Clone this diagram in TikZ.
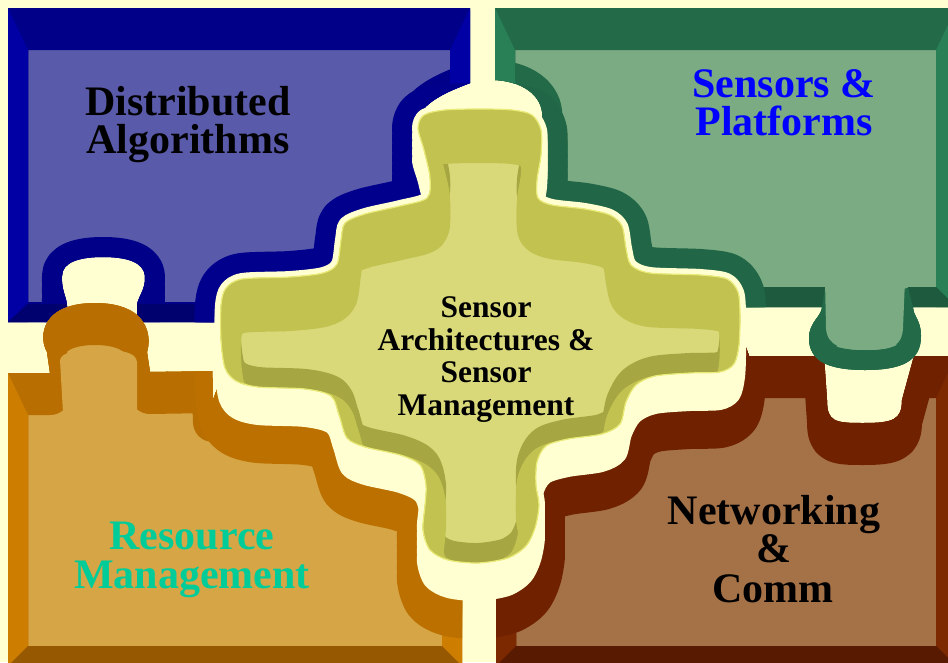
\documentclass[tikz,border=0pt]{standalone}
\usepackage{fontspec}
\setmainfont{Liberation Serif}
\definecolor{paper}{RGB}{255,255,210}
\definecolor{bluface}{RGB}{90,90,170}
\definecolor{blutop}{RGB}{0,0,136}
\definecolor{bluside}{RGB}{0,0,165}
\definecolor{blubot}{RGB}{0,0,110}
\definecolor{bluwave}{RGB}{0,0,140}
\definecolor{grnface}{RGB}{123,171,130}
\definecolor{grntop}{RGB}{34,106,72}
\definecolor{grnside}{RGB}{42,128,86}
\definecolor{grnbot}{RGB}{30,90,62}
\definecolor{grnwave}{RGB}{33,102,70}
\definecolor{orgface}{RGB}{214,165,70}
\definecolor{orgtop}{RGB}{184,110,0}
\definecolor{orgside}{RGB}{205,125,0}
\definecolor{orgbot}{RGB}{150,88,0}
\definecolor{orgwave}{RGB}{188,112,0}
\definecolor{brnface}{RGB}{165,114,72}
\definecolor{brntop}{RGB}{112,34,0}
\definecolor{brnside}{RGB}{124,40,0}
\definecolor{brnbot}{RGB}{88,26,0}
\definecolor{brnwave}{RGB}{112,34,0}
\definecolor{cenfloor}{RGB}{217,217,122}
\definecolor{cenlight}{RGB}{194,194,80}
\definecolor{cendark}{RGB}{166,166,66}
\definecolor{cenrim}{RGB}{234,234,120}
\definecolor{rmteal}{RGB}{0,204,153}
\definecolor{spblue}{RGB}{0,0,255}

% one corner tray: #1 outline, #2 colour prefix, #3-#6 outer frame, #7 extra floor and bottom wall
\newcommand\cornerpiece[7]{%
  \begin{scope}
    \clip #1;
    \fill[#2face] #1;
    \foreach \s in {0,11,22}{\draw[#2top,line width=40pt,shift={(0,\s)}] #1;}
    \fill[#2side] (#3,#4) -- (#3+20,#4+42) -- (#3+20,#6-20) -- (#3,#6) -- cycle;
    \fill[#2side] (#5,#4) -- (#5-20,#4+42) -- (#5-20,#6-20) -- (#5,#6) -- cycle;
    #7
    \foreach \s in {0,10,...,50}{\filldraw[#2wave,line width=52pt,shift={(0,\s)}] \centrepath;}
  \end{scope}}

\begin{document}
\begin{tikzpicture}[x=1pt,y=-1pt,line join=round,line cap=round,
  lab/.style={anchor=base,inner sep=0pt,font=\bfseries\fontsize{42}{42}\selectfont},
  ctr/.style={anchor=base,inner sep=0pt,font=\bfseries\fontsize{31.5}{32}\selectfont}]
\useasboundingbox (0,0) rectangle (948,662);
\fill[paper] (0,0) rectangle (948,662);

\def\centrepath{plot[smooth cycle,tension=0.5] coordinates {
 (418,128) (424,115) (445,110) (480,109) (512,110) (532,115) (541,130) (541,155)
 (537,180) (538,198) (552,205) (585,209) (610,215) (622,226) (626,248) (631,265)
 (650,273) (700,275) (727,279) (738,292) (740,315) (739,345) (734,364) (720,372)
 (690,373) (655,376) (636,385) (626,402) (620,424) (602,434) (568,439) (546,446)
 (537,462) (536,485) (539,505) (535,528) (526,546) (508,558) (478,563) (448,560)
 (430,550) (423,530) (425,505) (426,485) (420,465) (400,455) (365,447) (347,438)
 (339,415) (331,396) (305,389) (258,387) (236,381) (225,368) (221,340) (221,305)
 (226,288) (242,279) (290,277) (323,273) (337,264) (341,240) (345,223) (365,214)
 (400,206) (427,198) (430,178) (424,150)}}

\def\bluepath{(8,8) -- (470,8) -- (470,83) .. controls (452,90) and (425,100) .. (418,118)
 -- (445,150) -- (470,320) -- (235,320) -- (216,322) -- (137,322) -- (137,306)
 .. controls (137,298) and (146,290) .. (145,276) .. controls (144,262) and (126,257) .. (103,257)
 .. controls (80,257) and (62,262) .. (62,276) .. controls (61,290) and (67,298) .. (67,306)
 -- (67,322) -- (8,322) -- cycle}

\def\grnpath{(495,8) -- (956,8) -- (956,307) -- (913,307)
 .. controls (913,316) and (921,320) .. (921,336) .. controls (921,362) and (900,370) .. (865,370)
 .. controls (830,370) and (809,362) .. (809,338) .. controls (809,322) and (822,316) .. (822,307)
 -- (744,307) -- (700,325) -- (480,330) -- (500,140) -- (542,120)
 .. controls (545,100) and (528,82) .. (495,80) -- cycle}

\def\orgpath{(8,373) -- (50,373) -- (47,352) .. controls (38,336) and (42,303) .. (95,303)
 .. controls (148,303) and (152,336) .. (147,352) -- (150,372)
 -- (212,371) -- (213,400) -- (240,330) -- (480,340) -- (480,545) -- (462,585)
 -- (462,666) -- (8,666) -- cycle}

\def\brnpath{(496,666) -- (496,584) -- (480,545) -- (480,340) -- (720,340) -- (745,345)
 -- (749,356) -- (824,356) -- (827,400) .. controls (827,422) and (835,423) .. (863,423)
 .. controls (893,423) and (902,420) .. (902,400) -- (914,356) -- (956,356) -- (956,666) -- cycle}

% corner trays
\cornerpiece{\bluepath}{blu}{8}{8}{470}{322}{\fill[blubot] (8,322) -- (28,304) -- (450,304) -- (470,322) -- cycle;}
\cornerpiece{\orgpath}{org}{8}{373}{462}{666}{%
  \fill[orgface] (63,413) -- (60,360) .. controls (62,352) and (75,350) .. (98,350)
    .. controls (122,350) and (136,352) .. (137,362) -- (137,413) -- cycle;
  \fill[orgbot] (8,666) -- (28,646) -- (442,646) -- (462,666) -- cycle;}
\cornerpiece{\brnpath}{brn}{496}{356}{956}{666}{\fill[brnbot] (496,666) -- (516,646) -- (936,646) -- (956,666) -- cycle;}
\cornerpiece{\grnpath}{grn}{495}{8}{956}{307}{%
  \fill[grnface] (825,280) -- (826,328) .. controls (827,346) and (842,350) .. (866,350)
    .. controls (894,350) and (902,345) .. (903,328) -- (905,280) -- cycle;
  \fill[grnbot] (700,307) -- (700,287) -- (825,287) -- (822,307) -- cycle;
  \fill[grnbot] (913,307) -- (908,287) -- (936,287) -- (956,307) -- cycle;}

% gap around the centre tray
\foreach \s in {0,8,...,32}{\filldraw[paper,line width=12pt,shift={(0,\s)}] \centrepath;}

% centre tray
\begin{scope}
  \clip \centrepath;
  \fill[cenfloor] \centrepath;
  \draw[cendark,line width=40pt] \centrepath;
  \foreach \s in {20,28,34}{\draw[cenlight,line width=40pt,shift={(0,\s)}] \centrepath;}
\end{scope}
\draw[cenrim,line width=1.2pt] \centrepath;

% labels
\node[lab] (da1) at (188,115) {Distributed};
\node[lab] (da2) at (188,153) {Algorithms};
\node[lab,text=spblue] (sp1) at (784,97) {Sensors \&};
\node[lab,text=spblue] (sp2) at (784,135) {Platforms};
\node[lab,text=rmteal] (rm1) at (192,549) {Resource};
\node[lab,text=rmteal] (rm2) at (192,588) {Management};
\node[lab] (nc1) at (774,524) {Networking};
\node[lab] (nc2) at (774,562) {\&};
\node[lab] (nc3) at (773,602) {Comm};
\node[ctr] (sa1) at (486,317) {Sensor};
\node[ctr] (sa2) at (486,350) {Architectures \&};
\node[ctr] (sa3) at (486,382) {Sensor};
\node[ctr] (sa4) at (486,415) {Management};
\end{tikzpicture}
\end{document}
